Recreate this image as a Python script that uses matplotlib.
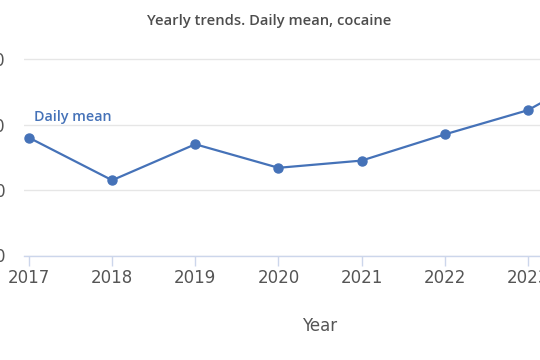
import matplotlib
matplotlib.use("Agg")
import matplotlib.pyplot as plt

plt.rcParams["font.family"] = ["DejaVu Sans"]

years = [2017, 2018, 2019, 2020, 2021, 2022, 2023, 2024]
daily_mean = [180, 115, 170, 134, 145, 185, 222, 292]
y_ticks = [0, 100, 200, 300]
series_name = "Daily mean"
title = "Yearly trends. Daily mean, cocaine"
x_label = "Year"

W, H = 540, 360
fig = plt.figure(figsize=(W / 100, H / 100), dpi=100)
left_px, right_px = 24, 616
bottom_px, top_px = 255.5, 58.5
ax = fig.add_axes([left_px / W, (H - bottom_px) / H,
                   (right_px - left_px) / W, (bottom_px - top_px) / H])

blue = "#4572b8"
ax.plot(years, daily_mean, color=blue, lw=1.6, marker="o", ms=6.5,
        clip_on=False, zorder=3)

ax.set_xlim(2017 - 5 / 83.2, 2024 + 5 / 83.2)
ax.set_ylim(0, 301)
ax.set_xticks(years)
ax.set_xticklabels([str(y) for y in years])
ax.set_yticks(y_ticks)
ax.set_yticklabels([str(v) for v in y_ticks])

for s in ["left", "right", "top"]:
    ax.spines[s].set_visible(False)
ax.spines["bottom"].set_color("#ccd6eb")
ax.spines["bottom"].set_linewidth(1)

ax.grid(axis="y", color="#e6e6e6", lw=1)
ax.set_axisbelow(True)
ax.tick_params(axis="x", colors="#ccd6eb", length=7.5, width=1,
               labelcolor="#555555", labelsize=12, pad=2)
ax.tick_params(axis="y", length=0, labelcolor="#555555", labelsize=12, pad=13.5)

ax.set_xlabel(x_label, fontsize=12, color="#555555", labelpad=22)

ax.text(2017 + 5 / 83.2, 201, series_name, color=blue, fontsize=10.3,
        family="Open Sans", fontweight="semibold", ha="left", va="bottom")

fig.text(269.5 / W, 1 - 21 / H, title, ha="center", va="center",
         fontsize=10.6, family="Open Sans", fontweight="semibold", color="#4d4d4d")

fig.savefig("out.png", dpi=100)
